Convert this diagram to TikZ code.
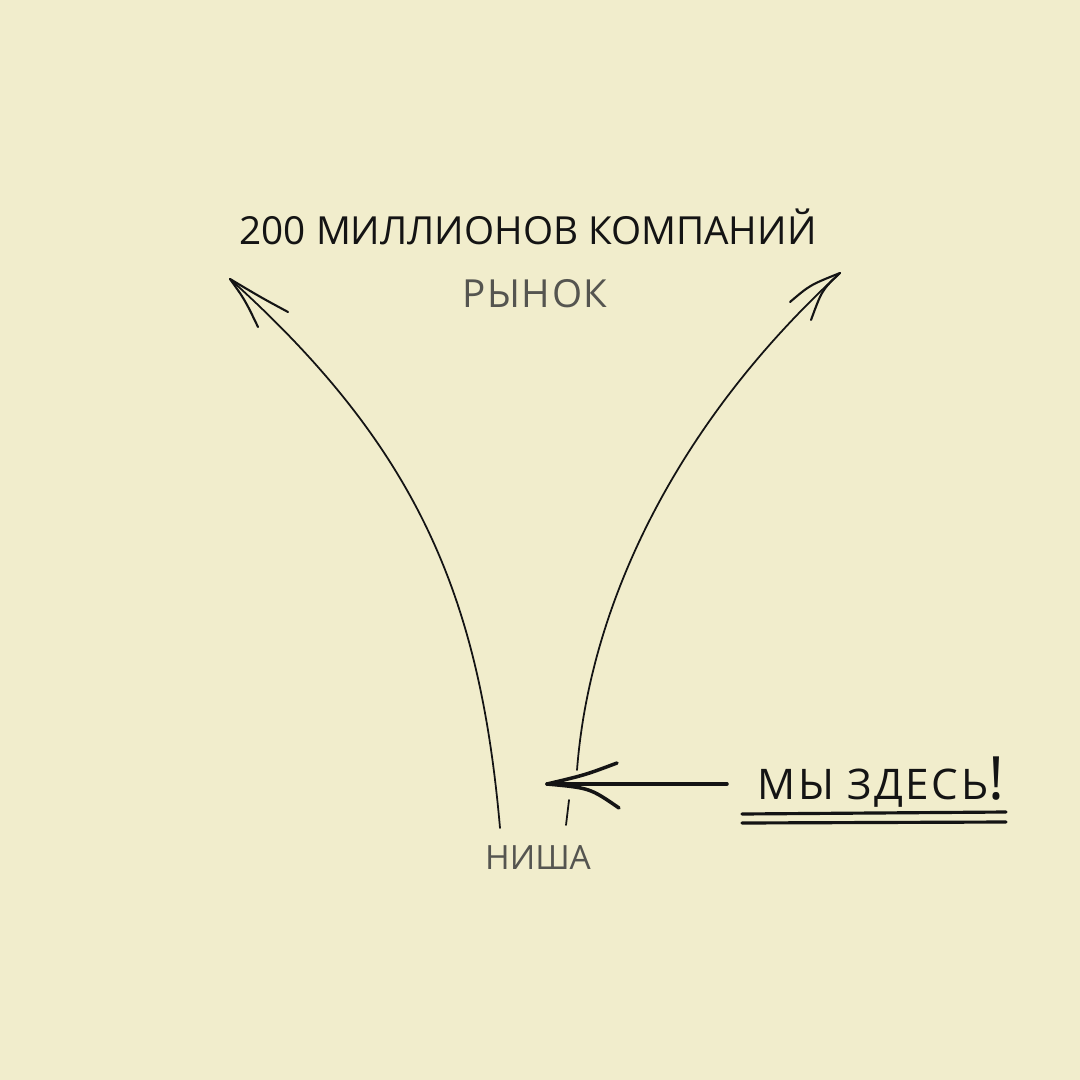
\documentclass[tikz,border=0pt]{standalone}
\usepackage{fontspec}
\setmainfont{Open Sans}
\usetikzlibrary{calc}
\definecolor{papier}{RGB}{241,237,204}
\definecolor{tinte}{RGB}{20,20,20}
\definecolor{blass}{RGB}{85,85,80}

\begin{document}
\begin{tikzpicture}[tinte, x=0.01cm, y=-0.01cm, line cap=round, line join=round]

    \fill[papier] (0, 0) rectangle (1080, 1080);
				\useasboundingbox (0, 0) rectangle (1080, 1080);
				
				\node (markt) at (528, 227) {\fontsize{11}{13}\selectfont 200 МИЛЛИОНОВ КОМПАНИЙ};
				\node[blass] (rynok) at (535, 294) {\fontsize{11}{13}\selectfont\addfontfeature{LetterSpace=4} РЫНОК};
				\node[blass] (nische) at (538, 858) {\fontsize{9.5}{11}\selectfont НИША};
				\node[anchor=base west] (wir) at (745, 799) {\fontsize{12}{14}\selectfont\addfontfeature{LetterSpace=6}МЫ ЗДЕСЬ{\fontsize{17}{19}\selectfont!}};
				
				\coordinate (lunten) at (500, 828);
				\coordinate (loben) at (230, 279);
				\coordinate (runten) at (577, 770);
				\coordinate (roben) at (840, 273);
				\coordinate (pfeilspitze) at (547, 784);
				
				% die beiden Kurven
				\draw[line width=0.5pt] (lunten) .. controls (480, 600) and (420, 450) .. (loben);
				\draw[line width=0.5pt] (runten) .. controls (590, 600) and (680, 420) .. (roben);
				\draw[line width=0.5pt] (569, 800) -- (566, 825);
				
				\draw[line width=0.6pt] (loben) .. controls (245, 300) .. (258, 327);
				\draw[line width=0.6pt] (loben) .. controls (262, 298) .. (288, 312);
				\draw[line width=0.6pt] (roben) .. controls (810, 285) .. (790, 302);
				\draw[line width=0.6pt] (roben) .. controls (822, 290) .. (811, 320);
				
				% Pfeil
				\draw[line width=1pt] (wir.west |- pfeilspitze) ++(-18, 0) -- (pfeilspitze);
				\draw[line width=1pt] (pfeilspitze) .. controls (585, 775) .. (617, 763);
				\draw[line width=1pt] (pfeilspitze) .. controls (590, 788) .. (619, 808);
				
				\draw[line width=0.9pt] (742, 814) -- (1006, 812);
				\draw[line width=0.9pt] (742, 823) -- (1006, 822);

\end{tikzpicture}
\end{document}
